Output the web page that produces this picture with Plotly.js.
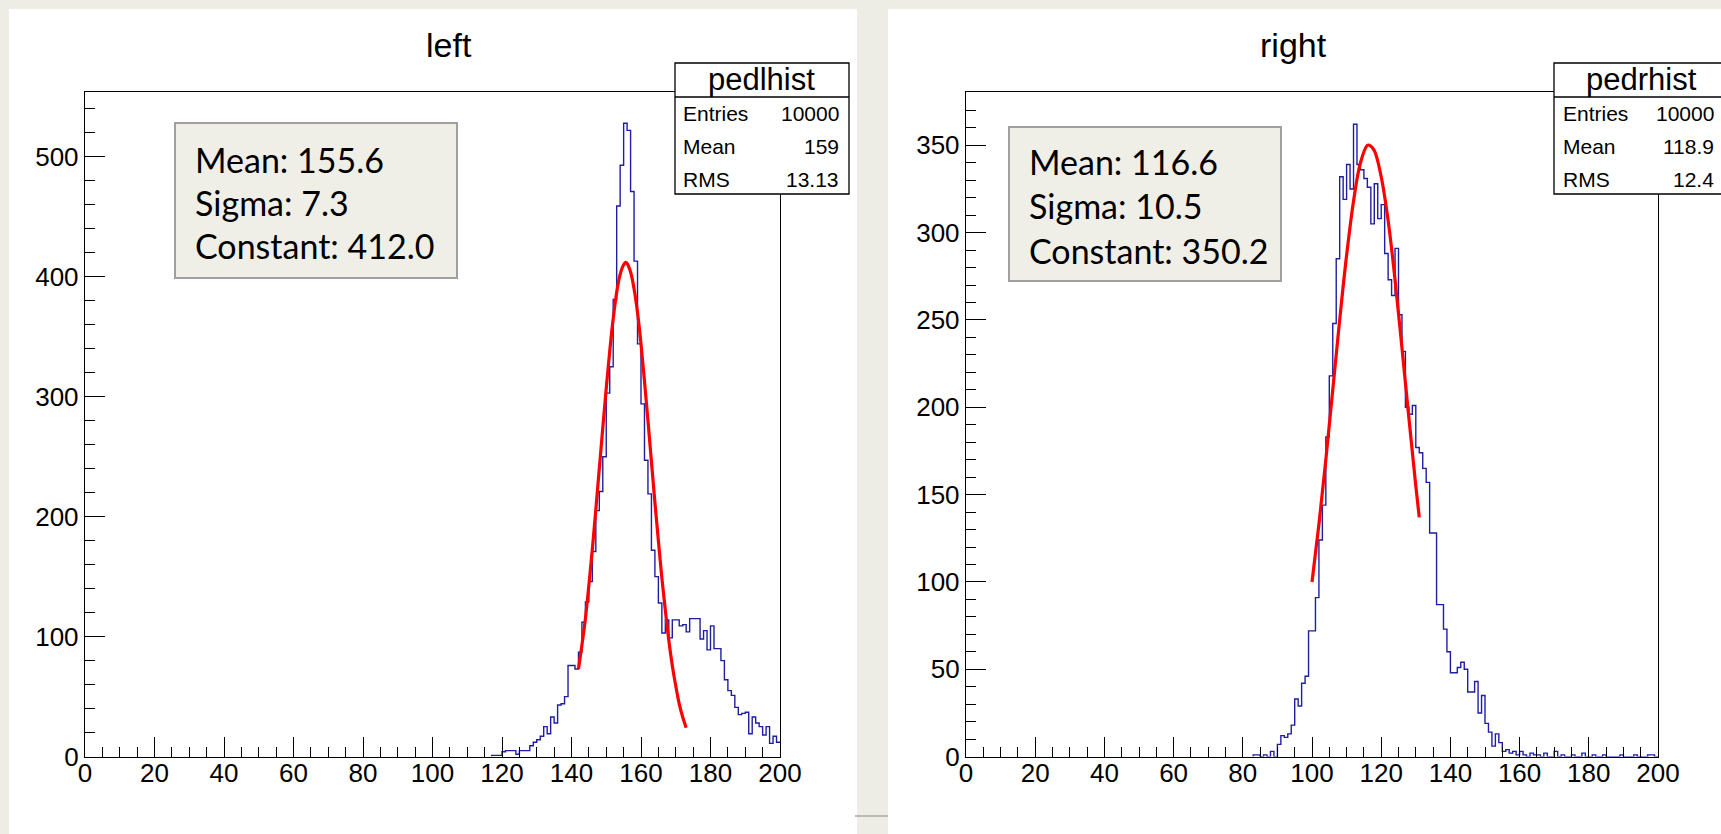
<!DOCTYPE html>
<html>
<head>
<meta charset="utf-8">
<script src="https://cdn.plot.ly/plotly-3.0.1.min.js"></script>
<style>html,body{margin:0;padding:0;background:#eeede5;}#chart{width:1721px;height:834px;}</style>
</head>
<body>
<div id="chart"></div>
<script>
// ---------------- data ----------------
const panelTitles = ["left", "right"];
const statNames = ["pedlhist", "pedrhist"];
const statLabels = ["Entries", "Mean", "RMS"];
const leftStats = ["10000", "159", "13.13"];
const rightStats = ["10000", "118.9", "12.4"];
const fitLabels = ["Mean", "Sigma", "Constant"];
const leftFitParams = [155.6, 7.3, 412.0];
const rightFitParams = [116.6, 10.5, 350.2];

const xTickVals = [0, 20, 40, 60, 80, 100, 120, 140, 160, 180, 200];
const leftYTicks = [0, 100, 200, 300, 400, 500];
const rightYTicks = [0, 50, 100, 150, 200, 250, 300, 350];

// histogram contents, one value per unit-wide bin
const leftFirstBin = 117;
const leftCounts = [1,1,1,4,5,5,5,2,5,5,5,
  9,12,14,17,25,19,33,28,43,44,50,
  76,76,73,87,112,129,146,171,205,221,
  250,303,325,381,459,493,528,522,471,413,
  344,294,247,219,172,150,128,103,114,99,
  114,114,109,110,104,115,115,115,98,105,
  89,109,90,90,80,64,55,51,41,35,
  36,37,19,33,28,25,18,25,11,17,12];

const rightFirstBin = 83;
const rightCounts = [1,1,0,1,0,3,0,7,12,11,
  13,18,33,29,42,46,72,72,91,124,
  144,183,218,248,285,332,319,339,325,362,
  339,336,331,326,305,328,308,316,288,273,
  264,291,253,232,200,196,201,177,174,165,
  157,128,128,87,87,73,60,48,48,51,
  54,50,37,37,43,25,35,19,14,6,
  13,8,3,4,2,3,1,3,1,0,
  2,1,1,0,2,0,0,3,0,1,
  0,0,1,0,0,2,0,0,1,0,
  0,1,0,0,0,0,1,0,0,0,
  1,0,0,0,1,1,0];

// fitted curves, points
const leftFitX = [142,143,144,145,146,147,148,149,150,151,152,153,154,155,155.6,156,157,158,159,160,161,162,163,164,165,166,167,168,169,170,171,172,173];
const leftFitY = [73,93,115,143,173,206,240,274,307,338,365,387,402,410,412,411,404,390,370,344,313,280,246,212,180,149,122,97,76,59,44,33,24];
const rightFitX = [100,102,104,106,108,110,112,114,116,116.6,118,120,122,124,126,128,130,131];
const rightFitY = [100,133,170,210,250,287,318,340,350,350,347,332,307,273,234,194,155,137];

// ---------------- helpers ----------------
const W = 1721, H = 834;
const X = px => px / W;
const Y = py => 1 - py / H;
const rootFamily = '"Liberation Sans", Arial, Helvetica, sans-serif';

function stepLine(first, counts, xmax) {
  const xs = [first], ys = [0];
  counts.forEach((c, i) => { xs.push(first + i); ys.push(c); });
  xs.push(xmax); ys.push(counts[counts.length - 1]);
  return {xs, ys};
}
const L = stepLine(leftFirstBin, leftCounts, 200);
const R = stepLine(rightFirstBin, rightCounts, 200);

const histColor = '#1e1ea3';
const traces = [
  {x: L.xs, y: L.ys, type: 'scatter', mode: 'lines', line: {shape: 'hv', color: histColor, width: 1.4}, xaxis: 'x', yaxis: 'y', hoverinfo: 'skip'},
  {x: leftFitX, y: leftFitY, type: 'scatter', mode: 'lines', line: {shape: 'spline', color: '#ff0000', width: 3.2}, xaxis: 'x', yaxis: 'y', hoverinfo: 'skip'},
  {x: R.xs, y: R.ys, type: 'scatter', mode: 'lines', line: {shape: 'hv', color: histColor, width: 1.4}, xaxis: 'x2', yaxis: 'y2', hoverinfo: 'skip'},
  {x: rightFitX, y: rightFitY, type: 'scatter', mode: 'lines', line: {shape: 'spline', color: '#ff0000', width: 3.2}, xaxis: 'x2', yaxis: 'y2', hoverinfo: 'skip'}
];

const tickFont = {family: rootFamily, size: 26, color: '#000'};
function xAxis(d0, d1, anchor) {
  return {domain: [X(d0), X(d1)], range: [0, 200], anchor: anchor,
    tickmode: 'array', tickvals: xTickVals, ticktext: xTickVals.map(String),
    ticks: 'inside', ticklen: 20, tickwidth: 1, tickcolor: '#000',
    minor: {dtick: 5, tick0: 0, ticks: 'inside', ticklen: 10, tickwidth: 1, tickcolor: '#000', showgrid: false},
    showline: true, mirror: true, linecolor: '#000', linewidth: 1.2,
    ticklabelstandoff: -7,
    showgrid: false, zeroline: false, tickfont: tickFont, fixedrange: true};
}
function yAxis(rmax, ticks, minorStep, anchor) {
  return {domain: [Y(756.6), Y(92)], range: [0, rmax], anchor: anchor,
    tickmode: 'array', tickvals: ticks, ticktext: ticks.map(String),
    ticks: 'inside', ticklen: 20, tickwidth: 1, tickcolor: '#000',
    minor: {dtick: minorStep, tick0: 0, ticks: 'inside', ticklen: 10, tickwidth: 1, tickcolor: '#000', showgrid: false},
    showline: true, mirror: true, linecolor: '#000', linewidth: 1.2,
    showgrid: false, zeroline: false, tickfont: tickFont, fixedrange: true};
}

const shapes = [
  // white pads
  {type: 'rect', xref: 'paper', yref: 'paper', x0: X(9), x1: X(857), y0: 0, y1: Y(9), fillcolor: '#ffffff', line: {width: 0}, layer: 'below'},
  {type: 'rect', xref: 'paper', yref: 'paper', x0: X(888), x1: 1, y0: 0, y1: Y(9), fillcolor: '#ffffff', line: {width: 0}, layer: 'below'},
  {type: 'line', xref: 'paper', yref: 'paper', x0: X(855), x1: X(888), y0: Y(816), y1: Y(816), line: {color: '#a8a8a8', width: 1.5}},
  // fit text boxes
  {type: 'rect', xref: 'paper', yref: 'paper', x0: X(175), x1: X(457), y0: Y(278), y1: Y(123), fillcolor: '#efefe8', line: {color: '#a0a0a0', width: 2}, layer: 'above'},
  {type: 'rect', xref: 'paper', yref: 'paper', x0: X(1009), x1: X(1281), y0: Y(281), y1: Y(127), fillcolor: '#efefe8', line: {color: '#a0a0a0', width: 2}, layer: 'above'},
  // stats boxes
  {type: 'rect', xref: 'paper', yref: 'paper', x0: X(675), x1: X(849), y0: Y(194), y1: Y(63), fillcolor: '#ffffff', line: {color: '#000', width: 1.3}, layer: 'above'},
  {type: 'line', xref: 'paper', yref: 'paper', x0: X(675), x1: X(849), y0: Y(97), y1: Y(97), line: {color: '#000', width: 1.3}, layer: 'above'},
  {type: 'rect', xref: 'paper', yref: 'paper', x0: X(1554), x1: X(1740), y0: Y(194), y1: Y(63), fillcolor: '#ffffff', line: {color: '#000', width: 1.3}, layer: 'above'},
  {type: 'line', xref: 'paper', yref: 'paper', x0: X(1554), x1: 1, y0: Y(97), y1: Y(97), line: {color: '#000', width: 1.3}, layer: 'above'}
];

const ann = [];
function txt(text, px, py, size, xanchor, family) {
  ann.push({text: text, xref: 'paper', yref: 'paper', x: X(px), y: Y(py), xanchor: xanchor, yanchor: 'middle',
    showarrow: false, font: {family: family || rootFamily, size: size, color: '#000'}, borderpad: 0});
}
txt(panelTitles[0], 449, 45, 34, 'center');
txt(panelTitles[1], 1293, 45, 34, 'center');

const rowY = [113, 146, 179];
txt(statNames[0], 761, 80, 31, 'center');
txt(statNames[1], 1641, 80, 31, 'center');
statLabels.forEach((s, i) => {
  txt(s, 682, rowY[i], 21, 'left');
  txt(leftStats[i], 840, rowY[i], 21, 'right');
  txt(s, 1562, rowY[i], 21, 'left');
  txt(rightStats[i], 1715, rowY[i], 21, 'right');
});

const fitFont = 'Lato, Carlito, "Open Sans", sans-serif';
const leftFitRows = [159, 202, 246];
const rightFitRows = [161, 205, 250];
fitLabels.forEach((s, i) => {
  txt(s + ': ' + leftFitParams[i].toFixed(1), 194, leftFitRows[i], 34, 'left', fitFont);
  txt(s + ': ' + rightFitParams[i].toFixed(1), 1028, rightFitRows[i], 34, 'left', fitFont);
});

const layout = {
  width: W, height: H, margin: {l: 0, r: 0, t: 0, b: 0},
  paper_bgcolor: '#eeede5', plot_bgcolor: 'rgba(0,0,0,0)',
  showlegend: false,
  xaxis: xAxis(85, 780, 'y'),
  yaxis: yAxis(554, leftYTicks, 20, 'x'),
  xaxis2: xAxis(966, 1658, 'y2'),
  yaxis2: yAxis(380.5, rightYTicks, 10, 'x2'),
  shapes: shapes,
  annotations: ann
};

Plotly.newPlot('chart', traces, layout, {staticPlot: true, displayModeBar: false});
</script>
</body>
</html>
